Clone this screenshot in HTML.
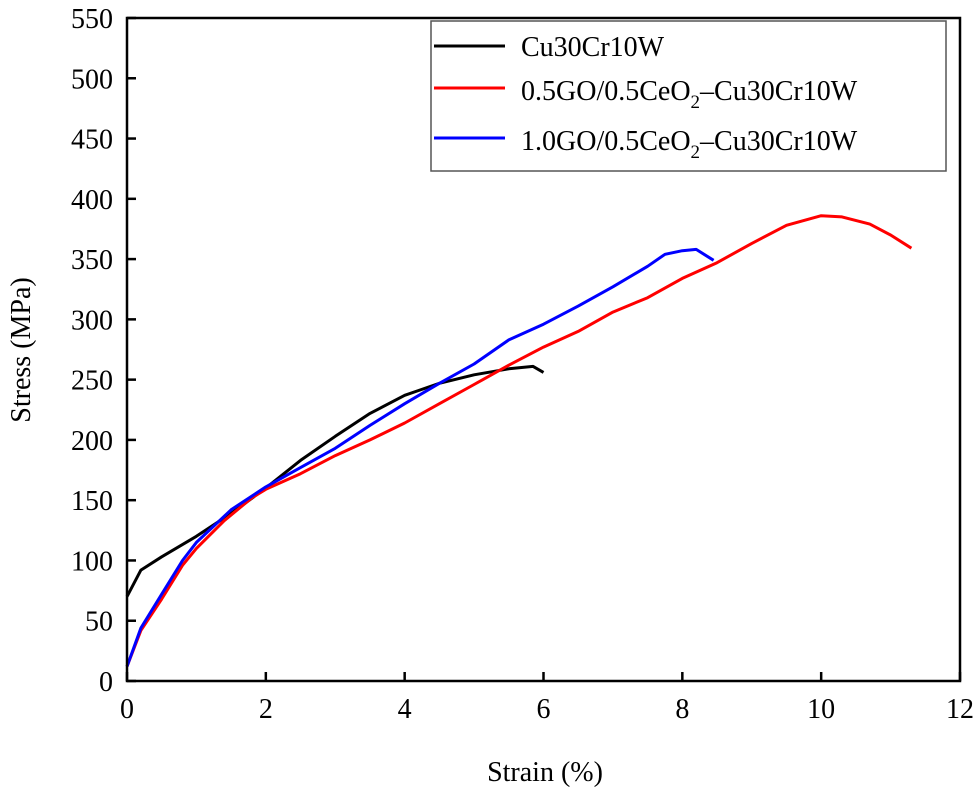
<!DOCTYPE html>
<html><head><meta charset="utf-8"><style>
body{margin:0;background:#fff}
svg text{font-family:"Liberation Serif",serif;fill:#000;font-stretch:condensed}
</style></head><body>
<svg id="chart" width="976" height="790" viewBox="0 0 976 790" xmlns="http://www.w3.org/2000/svg">
<g id="plot"></g>
<text transform="translate(30,350) rotate(-90)" text-anchor="middle" font-size="28">Stress (MPa)</text>
<text x="545" y="781" text-anchor="middle" font-size="28">Strain (%)</text>
<g>
<rect x="431" y="21" width="515" height="150" fill="#fff" stroke="#555" stroke-width="1.5"/>
<line x1="434" y1="46" x2="505" y2="46" stroke="#000" stroke-width="3"/>
<text x="521" y="56" font-size="28">Cu30Cr10W</text>
<line x1="434" y1="88" x2="505" y2="88" stroke="#f00" stroke-width="3"/>
<text x="521" y="100" font-size="28">0.5GO/0.5CeO<tspan font-size="19" dy="8">2</tspan><tspan dy="-8">–Cu30Cr10W</tspan></text>
<line x1="434" y1="138" x2="505" y2="138" stroke="#00f" stroke-width="3"/>
<text x="521" y="150" font-size="28">1.0GO/0.5CeO<tspan font-size="19" dy="8">2</tspan><tspan dy="-8">–Cu30Cr10W</tspan></text>
</g>
</svg>
<script>
const xTicks=[0,2,4,6,8,10,12];
const yTicks=[0,50,100,150,200,250,300,350,400,450,500,550];
const blackX=[0,0.2,0.5,1,1.5,2,2.5,3,3.5,4,4.2,4.5,5,5.5,5.85,6];
const blackY=[70,92,103,120,139,160,183,203,222,237,241,247,254,259,261,256];
const redX=[0,0.2,0.5,0.8,1,1.4,1.8,2,2.5,3,3.5,4,4.5,5,5.5,6,6.5,7,7.5,8,8.5,9,9.5,10,10.3,10.7,11,11.3];
const redY=[12,42,68,96,110,133,152,159,172,187,200,214,230,246,262,277,290,306,318,334,347,363,378,386,385,379,370,359];
const blueX=[0,0.2,0.5,0.8,1,1.5,2,2.5,3,3.5,4,4.5,5,5.5,6,6.5,7,7.5,7.75,8,8.2,8.45];
const blueY=[12,44,72,100,115,142,161,177,193,212,230,247,263,283,296,311,327,344,354,357,358,349];
const X0=127,X1=960,Y0=681,Y1=18;
const sx=v=>X0+(v-0)/(12-0)*(X1-X0);
const sy=v=>Y0-(v-0)/(550-0)*(Y0-Y1);
const NS="http://www.w3.org/2000/svg";
const g=document.getElementById('plot');
function mk(t,a){const e=document.createElementNS(NS,t);for(const k in a)e.setAttribute(k,a[k]);g.appendChild(e);return e;}
function series(xs,ys,color,name){
  const d=xs.map((x,i)=>(i?'L':'M')+sx(x).toFixed(1)+' '+sy(ys[i]).toFixed(1)).join(' ');
  const p=mk('path',{d:d,fill:'none',stroke:color,'stroke-width':3,'stroke-linejoin':'round'});
  
  
}
series(blackX,blackY,'#000','series-cu30cr10w');
series(redX,redY,'#f00','series-05go-05ceo2');
series(blueX,blueY,'#00f','series-10go-05ceo2');
const frame=mk('rect',{x:X0,y:Y1,width:X1-X0,height:Y0-Y1,fill:'none',stroke:'#000','stroke-width':2.5});


xTicks.forEach(v=>{
  const l=mk('line',{x1:sx(v),x2:sx(v),y1:Y0,y2:Y0-9,stroke:'#000','stroke-width':2.5});
  
  
  const t=mk('text',{x:sx(v),y:Y0+37,'text-anchor':'middle','font-size':28});
  t.textContent=v;
  
  
});
yTicks.forEach(v=>{
  const l=mk('line',{x1:X0,x2:X0+9,y1:sy(v),y2:sy(v),stroke:'#000','stroke-width':2.5});
  
  
  const t=mk('text',{x:X0-14,y:sy(v)+10,'text-anchor':'end','font-size':28});
  t.textContent=v;
  
  
});
</script>
</body></html>
